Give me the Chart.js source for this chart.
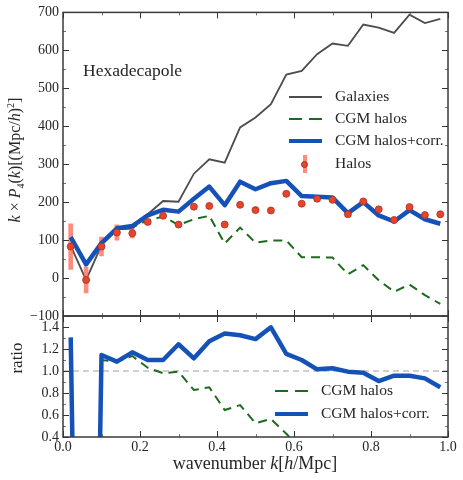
<!DOCTYPE html>
<html>
<head>
<meta charset="utf-8">
<script src="https://cdn.jsdelivr.net/npm/chart.js@4.4.1/dist/chart.umd.min.js"></script>
<style>
  body { margin: 0; background: #fff; }
  #wrap { position: relative; width: 463px; height: 480px; font-family: "Liberation Serif", serif; color: #262626; }
  canvas { position: absolute; left: 0; }
  .txt { position: absolute; white-space: nowrap; line-height: 1; }
  .row { position: absolute; height: 0; }
  .sample { position: absolute; width: 33px; height: 2px; margin-top: -1px; }
  .lab { position: absolute; transform: translateY(-55%); font-size: 15.5px; white-space: nowrap; }
</style>
</head>
<body>
<div id="wrap">
  <canvas id="topChart" width="463" height="330" style="top:0"></canvas>
  <canvas id="botChart" width="463" height="180" style="top:300px"></canvas>

  <div class="txt" style="left:16px;top:160px;font-size:16px;transform:translate(-50%,-50%) rotate(-90deg)">
    <i>k</i> &times; <i>P</i><sub style="font-size:10px">4</sub>(<i>k</i>)[(Mpc/<i>h</i>)<sup style="font-size:10px">2</sup>]
  </div>
  <div class="txt" style="left:16px;top:358px;font-size:17px;transform:translate(-50%,-50%) rotate(-90deg)">ratio</div>
  <div class="txt" style="left:255px;top:463px;font-size:18px;transform:translate(-50%,-50%)">wavenumber <i>k</i>[<i>h</i>/Mpc]</div>
  <div class="txt" style="left:83px;top:71px;font-size:17.5px;transform:translateY(-50%)">Hexadecapole</div>

  <!-- legend, top panel -->
  <div class="row" style="top:97px">
    <div class="sample" style="left:289px;background:#4d4d4d"></div>
    <div class="lab" style="left:335px">Galaxies</div>
  </div>
  <div class="row" style="top:119px">
    <div class="sample" style="left:289px;background:repeating-linear-gradient(to right,#1d6b1d 0 13px,transparent 13px 20px)"></div>
    <div class="lab" style="left:335px">CGM halos</div>
  </div>
  <div class="row" style="top:141px">
    <div class="sample" style="left:289px;height:4px;margin-top:-2px;background:#1552b8"></div>
    <div class="lab" style="left:335px">CGM halos+corr.</div>
  </div>
  <div class="row" style="top:164px">
    <div style="position:absolute;left:303px;top:-9px;width:4px;height:18px;background:rgba(255,110,90,0.8)"></div>
    <div style="position:absolute;left:301px;top:-3.5px;width:7px;height:7px;border-radius:50%;background:#e8432b;box-sizing:border-box;border:1px solid #a83221"></div>
    <div class="lab" style="left:335px">Halos</div>
  </div>

  <!-- legend, bottom panel -->
  <div class="row" style="top:391px">
    <div class="sample" style="left:275px;background:repeating-linear-gradient(to right,#1d6b1d 0 13px,transparent 13px 20px)"></div>
    <div class="lab" style="left:321px">CGM halos</div>
  </div>
  <div class="row" style="top:414px">
    <div class="sample" style="left:275px;height:4px;margin-top:-2px;background:#1552b8"></div>
    <div class="lab" style="left:321px">CGM halos+corr.</div>
  </div>
</div>

<script>
// wavenumber bins
const k = [0.02, 0.06, 0.10, 0.14, 0.18, 0.22, 0.26, 0.30, 0.34, 0.38, 0.42, 0.46, 0.50,
           0.54, 0.58, 0.62, 0.66, 0.70, 0.74, 0.78, 0.82, 0.86, 0.90, 0.94, 0.98];

// k * P4(k), top panel
const galaxies = [85, -5, 87, 128, 130, 168, 203, 201, 275, 313, 304, 397, 423,
                  458, 536, 546, 590, 618, 612, 668, 660, 646, 694, 672, 683];
const cgmHalos = [106, 35, 91, 130, 134, 152, 162, 140, 155, 164, 91, 133, 93,
                  99, 99, 55, 55, 54, 10, 34, -6, -36, -17, -45, -68];
const cgmCorr  = [108, 36, 92, 131, 137, 165, 180, 175, 209, 241, 192, 254, 234,
                  250, 256, 216, 214, 212, 171, 200, 165, 149, 179, 155, 143];
const halos    = [83, -5, 83, 120, 118, 148, 164, 141, 188, 190, 141, 193, 179,
                  178, 222, 196, 209, 206, 168, 202, 181, 153, 187, 166, 168];
const halosErr = [60, 34, 25, 20, 12, 7, 5, 5, 5, 5, 5, 5, 5,
                  5, 5, 5, 5, 5, 5, 5, 5, 5, 5, 5, 5];

// model / halos, bottom panel
const ratioCgm  = [1.28, -7.0, 1.10, 1.085, 1.136, 1.03, 0.98, 0.994, 0.827, 0.852, 0.645, 0.69, 0.525,
                   0.564, 0.43, 0.28, 0.26, 0.26, 0.06, 0.17, -0.03, -0.24, -0.09, -0.27, -0.40];
const ratioCorr = [1.306, -7.2, 1.145, 1.085, 1.17, 1.10, 1.10, 1.243, 1.115, 1.27, 1.34, 1.325, 1.29,
                   1.397, 1.155, 1.10, 1.015, 1.025, 0.994, 0.985, 0.909, 0.957, 0.957, 0.933, 0.852];
const ratioOne  = [1.0];

// ticks
const kTicks      = [0, 0.2, 0.4, 0.6, 0.8, 1.0];
const kMinor      = [0.1, 0.3, 0.5, 0.7, 0.9];
const pTicks      = [-100, 0, 100, 200, 300, 400, 500, 600, 700];
const pMinor      = [-50, 50, 150, 250, 350, 450, 550, 650];
const ratioTicks  = [0.4, 0.6, 0.8, 1.0, 1.2, 1.4];
const ratioMinor  = [0.5, 0.7, 0.9, 1.1, 1.3, 1.5];

const pts = ys => k.map((x, i) => ({ x: x, y: ys[i] }));
const tickFont = { family: "Liberation Serif", size: 14 };

// matplotlib style frame with inward ticks
const frameTicks = {
  id: 'frameTicks',
  afterDatasetsDraw(chart, args, opts) {
    const { ctx, chartArea: a, scales: { x, y } } = chart;
    ctx.save();
    ctx.strokeStyle = '#333';
    ctx.lineWidth = 1;
    const tick = (vals, len, isX) => vals.forEach(v => {
      ctx.beginPath();
      if (isX) {
        const px = Math.round(x.getPixelForValue(v)) + 0.5;
        ctx.moveTo(px, a.top); ctx.lineTo(px, a.top + len);
        ctx.moveTo(px, a.bottom); ctx.lineTo(px, a.bottom - len);
      } else {
        const py = Math.round(y.getPixelForValue(v)) + 0.5;
        ctx.moveTo(a.left, py); ctx.lineTo(a.left + len, py);
        ctx.moveTo(a.right, py); ctx.lineTo(a.right - len, py);
      }
      ctx.stroke();
    });
    tick(opts.xMajor, 6, true);
    tick(opts.yMajor, 6, false);
    ctx.strokeStyle = '#777';
    tick(opts.xMinor, 3, true);
    tick(opts.yMinor, 3, false);
    ctx.strokeStyle = '#3a3a3a';
    ctx.lineWidth = 1.5;
    ctx.strokeRect(a.left, a.top, a.right - a.left, a.bottom - a.top);
    ctx.restore();
  }
};

new Chart(document.getElementById('topChart'), {
  type: 'line',
  data: {
    datasets: [
      { label: 'Galaxies', data: pts(galaxies), borderColor: '#4d4d4d', borderWidth: 1.8,
        pointRadius: 0, order: 5 },
      { label: 'CGM halos', data: pts(cgmHalos), borderColor: '#1d6b1d', borderWidth: 2,
        borderDash: [9, 6], pointRadius: 0, order: 4 },
      { type: 'bar', label: 'err', data: k.map((x, i) => ({ x: x, y: [halos[i] - halosErr[i], halos[i] + halosErr[i]] })),
        backgroundColor: 'rgba(255,110,90,0.8)', barThickness: 4, grouped: false, order: 3 },
      { label: 'CGM halos+corr.', data: pts(cgmCorr), borderColor: '#1552b8', borderWidth: 4.5,
        borderJoinStyle: 'round', pointRadius: 0, order: 2 },
      { label: 'Halos', data: pts(halos), showLine: false, pointRadius: 3.5,
        pointBackgroundColor: '#e8432b', pointBorderColor: '#a83221', pointBorderWidth: 0.8, order: 0 }
    ]
  },
  options: {
    responsive: false,
    animation: false,
    layout: { padding: { top: 12, right: 15, bottom: 14, left: 0 } },
    plugins: {
      legend: { display: false },
      tooltip: { enabled: false },
      frameTicks: { xMajor: kTicks, xMinor: kMinor, yMajor: pTicks, yMinor: pMinor }
    },
    scales: {
      x: {
        type: 'linear', min: 0, max: 1, offset: false,
        ticks: { display: false },
        grid: { display: false, drawTicks: false },
        border: { display: false },
        afterFit(s) { s.height = 0; }
      },
      y: {
        min: -100, max: 700,
        afterBuildTicks(s) { s.ticks = pTicks.map(v => ({ value: v })); },
        ticks: { font: tickFont, color: '#262626', padding: 4,
                 callback: v => String(v).replace('-', '\u2212') },
        grid: { display: false, drawTicks: false },
        border: { display: false },
        afterFit(s) { s.width = 63; }
      }
    }
  },
  plugins: [frameTicks]
});

new Chart(document.getElementById('botChart'), {
  type: 'line',
  data: {
    datasets: [
      { label: 'one', data: [{ x: kTicks[0], y: ratioOne[0] }, { x: kTicks[kTicks.length - 1], y: ratioOne[0] }],
        borderColor: '#a0a0a0', borderWidth: 1.2, borderDash: [6, 4], pointRadius: 0, order: 5 },
      { label: 'CGM halos', data: pts(ratioCgm), borderColor: '#1d6b1d', borderWidth: 2,
        borderDash: [9, 6], pointRadius: 0, order: 4 },
      { label: 'CGM halos+corr.', data: pts(ratioCorr), borderColor: '#1552b8', borderWidth: 4.5,
        borderJoinStyle: 'round', pointRadius: 0, order: 2 }
    ]
  },
  options: {
    responsive: false,
    animation: false,
    layout: { padding: { top: 16, right: 15, bottom: 0, left: 0 } },
    plugins: {
      legend: { display: false },
      tooltip: { enabled: false },
      frameTicks: { xMajor: kTicks, xMinor: kMinor, yMajor: ratioTicks, yMinor: ratioMinor }
    },
    scales: {
      x: {
        type: 'linear', min: 0, max: 1, offset: false,
        afterBuildTicks(s) { s.ticks = kTicks.map(v => ({ value: v })); },
        ticks: { font: tickFont, color: '#262626', padding: 2, maxRotation: 0,
                 callback: v => v.toFixed(1) },
        grid: { display: false, drawTicks: false },
        border: { display: false },
        afterFit(s) { s.height = 43; }
      },
      y: {
        min: 0.4, max: 1.5,
        afterBuildTicks(s) { s.ticks = ratioTicks.map(v => ({ value: v })); },
        ticks: { font: tickFont, color: '#262626', padding: 4,
                 callback: v => v.toFixed(1) },
        grid: { display: false, drawTicks: false },
        border: { display: false },
        afterFit(s) { s.width = 63; }
      }
    }
  },
  plugins: [frameTicks]
});
</script>
</body>
</html>
